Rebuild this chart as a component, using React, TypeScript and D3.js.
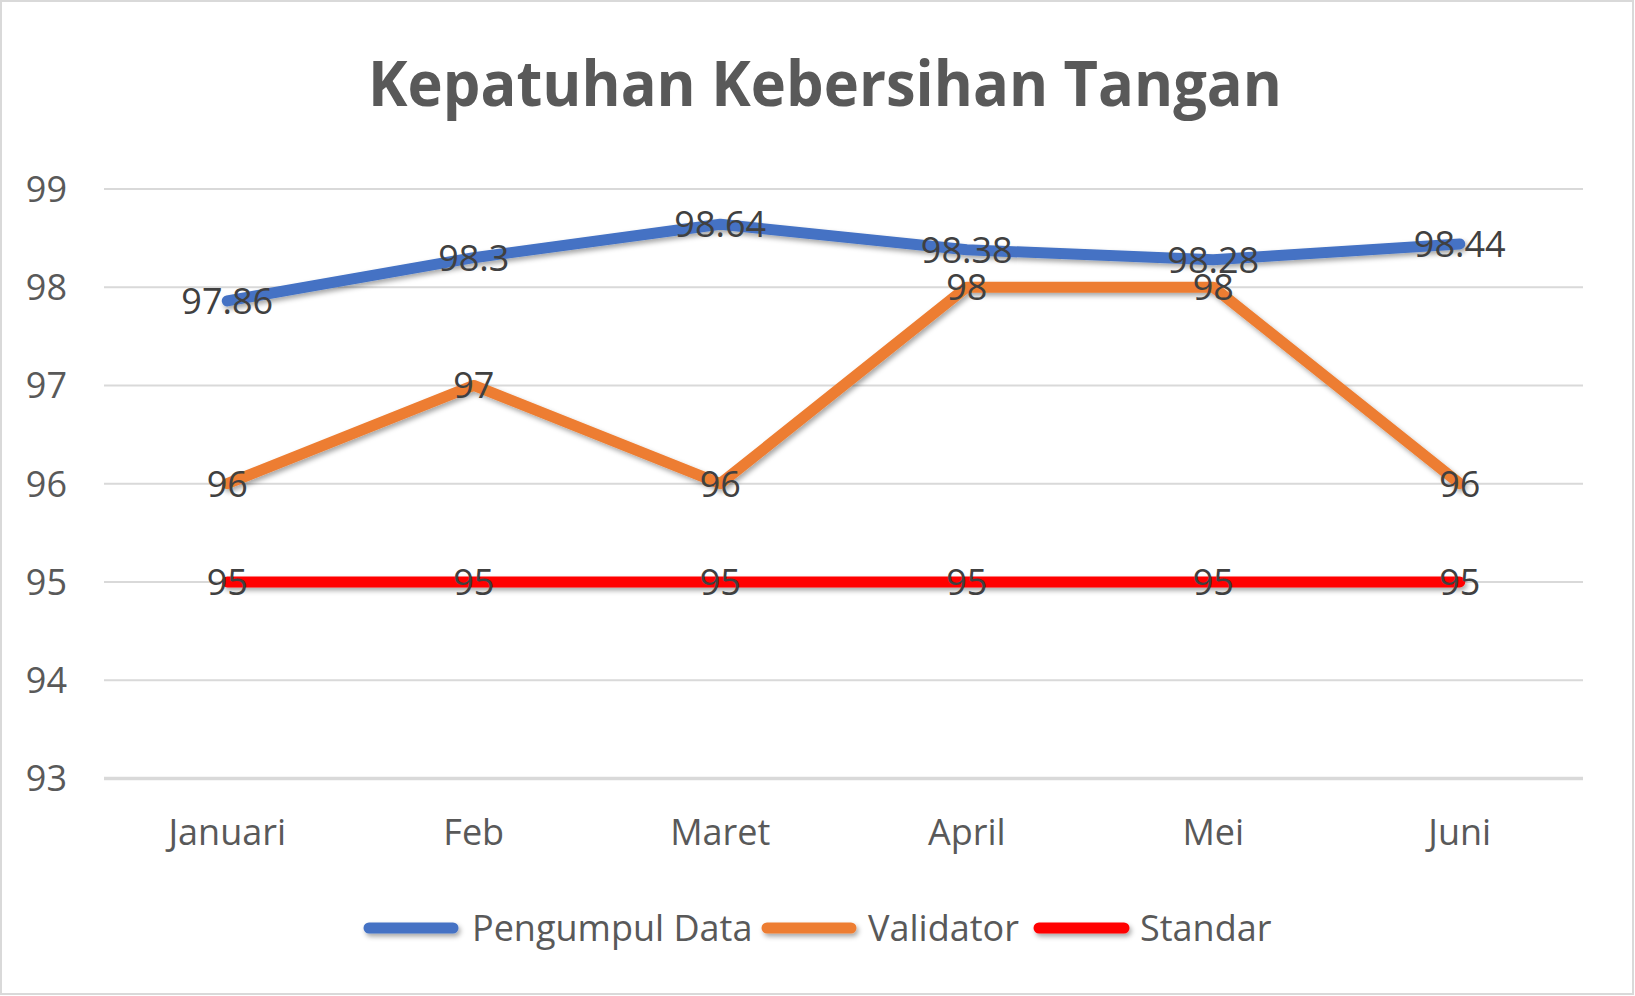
import * as d3 from "d3";

const months = ["Januari", "Feb", "Maret", "April", "Mei", "Juni"];
const pengumpul = [97.86, 98.3, 98.64, 98.38, 98.28, 98.44];
const validator = [96, 97, 96, 98, 98, 96];
const standar = [95, 95, 95, 95, 95, 95];
const yTicks = [93, 94, 95, 96, 97, 98, 99];

const SERIES = [
  { name: "Pengumpul Data", values: pengumpul, color: "#4472C4" },
  { name: "Validator", values: validator, color: "#ED7D31" },
  { name: "Standar", values: standar, color: "#FF0000" },
];

const W = 1635;
const H = 996;
const FONT = "'Open Sans', 'Noto Sans', sans-serif";

export default function App() {
  const x = d3.scalePoint<string>().domain(months).range([104, 1583]).padding(0.5);
  const y = d3.scaleLinear().domain([93, 99]).range([778.4, 188.9]);

  const line = d3
    .line<number>()
    .x((_, i) => x(months[i])!)
    .y((d) => y(d));

  // legend samples, laid out by hand like Excel does
  const legend = [
    { x0: 369, x1: 453, tx: 472 },
    { x0: 767, x1: 851, tx: 868 },
    { x0: 1039, x1: 1124, tx: 1140 },
  ];

  return (
    <svg
      width={W}
      height={H}
      style={{ position: "fixed", left: 0, top: 0, background: "#fff" }}
      fontFamily={FONT}
    >
      <defs>
        {/* userSpaceOnUse so flat horizontal lines keep their shadow */}
        <filter id="shadow" filterUnits="userSpaceOnUse" x={0} y={0} width={W} height={H}>
          <feDropShadow dx="2" dy="3" stdDeviation="2.5" floodColor="#000" floodOpacity="0.35" />
        </filter>
      </defs>
      <rect x={1} y={1} width={W - 3} height={H - 3} fill="#fff" stroke="#d9d9d9" strokeWidth={2} />

      {/* Title */}
      <text
        x={825}
        y={106}
        textAnchor="middle"
        fontSize={63}
        fontWeight={700}
        fill="#595959"
        textLength={914}
        lengthAdjust="spacingAndGlyphs"
      >
        Kepatuhan Kebersihan Tangan
      </text>

      {/* Gridlines */}
      {yTicks.map((t) => (
        <line
          key={t}
          x1={104}
          x2={1583}
          y1={y(t)}
          y2={y(t)}
          stroke="#d9d9d9"
          strokeWidth={t === 93 ? 3.5 : 2}
        />
      ))}

      {/* Y labels */}
      {yTicks.map((t) => (
        <text key={t} x={67} y={y(t) + 13} textAnchor="end" fontSize={36} fill="#595959">
          {t}
        </text>
      ))}

      {/* X labels */}
      {months.map((m) => (
        <text key={m} x={x(m)} y={845} textAnchor="middle" fontSize={36} fill="#595959">
          {m}
        </text>
      ))}

      {/* Lines */}
      {SERIES.map((s) => (
        <path
          key={s.name}
          d={line(s.values)!}
          fill="none"
          stroke={s.color}
          strokeWidth={11}
          strokeLinecap="round"
          strokeLinejoin="round"
          filter="url(#shadow)"
        />
      ))}

      {/* Data labels */}
      {SERIES.map((s) =>
        s.values.map((v, i) => (
          <text
            key={s.name + i}
            x={x(months[i])}
            y={y(v) + 13}
            textAnchor="middle"
            fontSize={36}
            fill="#404040"
          >
            {v}
          </text>
        ))
      )}

      {/* Legend */}
      {SERIES.map((s, i) => (
        <g key={s.name}>
          <line
            x1={legend[i].x0}
            x2={legend[i].x1}
            y1={928}
            y2={928}
            stroke={s.color}
            strokeWidth={11}
            strokeLinecap="round"
            filter="url(#shadow)"
          />
          <text x={legend[i].tx} y={941} fontSize={36} fill="#595959">
            {s.name}
          </text>
        </g>
      ))}
    </svg>
  );
}
